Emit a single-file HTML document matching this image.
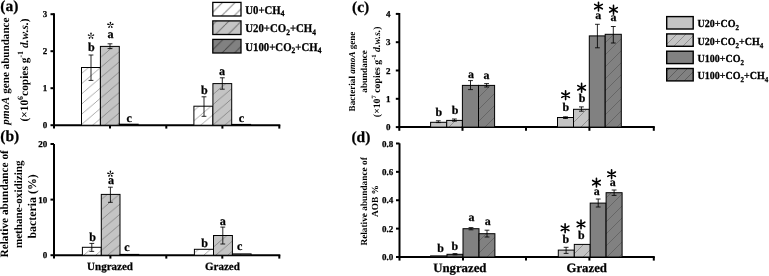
<!DOCTYPE html>
<html><head><meta charset="utf-8"><style>
html,body{margin:0;padding:0;background:#fff;width:769px;height:276px;overflow:hidden}
svg{display:block;filter:blur(0.3px)}
text{fill:#000}
svg{text-rendering:geometricPrecision}
text{stroke:#000;stroke-width:0.25px;paint-order:stroke}
.r text{stroke:none}
</style></head><body>
<svg width="769" height="276" viewBox="0 0 769 276" font-family="Liberation Serif" font-weight="bold">
<defs>
<pattern id="hwA" patternUnits="userSpaceOnUse" width="12" height="10.2"><rect width="12" height="10.2" fill="#fff"/><path d="M0,10.2 L12,0 M-12,10.2 L0,0 M12,10.2 L24,0" stroke="#a0a0a0" stroke-width="0.9"/></pattern>
<pattern id="hlA" patternUnits="userSpaceOnUse" width="12" height="10.2"><rect width="12" height="10.2" fill="#c4c4c4"/><path d="M0,10.2 L12,0 M-12,10.2 L0,0 M12,10.2 L24,0" stroke="#858585" stroke-width="0.9"/></pattern>
<pattern id="hdA" patternUnits="userSpaceOnUse" width="12" height="10.2"><rect width="12" height="10.2" fill="#818181"/><path d="M0,10.2 L12,0 M-12,10.2 L0,0 M12,10.2 L24,0" stroke="#555" stroke-width="0.9"/></pattern>
<pattern id="hwL" patternUnits="userSpaceOnUse" width="12.5" height="12.5"><rect width="12.5" height="12.5" fill="#fff"/><path d="M0,12.5 L12.5,0 M-12.5,12.5 L0,0 M12.5,12.5 L25.0,0" stroke="#808080" stroke-width="1.0"/></pattern>
<pattern id="hlL" patternUnits="userSpaceOnUse" width="12.5" height="12.5"><rect width="12.5" height="12.5" fill="#c4c4c4"/><path d="M0,12.5 L12.5,0 M-12.5,12.5 L0,0 M12.5,12.5 L25.0,0" stroke="#707070" stroke-width="1.0"/></pattern>
<pattern id="hdL" patternUnits="userSpaceOnUse" width="12.5" height="12.5"><rect width="12.5" height="12.5" fill="#818181"/><path d="M0,12.5 L12.5,0 M-12.5,12.5 L0,0 M12.5,12.5 L25.0,0" stroke="#484848" stroke-width="1.0"/></pattern>
<pattern id="hlC" patternUnits="userSpaceOnUse" width="12" height="12"><rect width="12" height="12" fill="#c4c4c4"/><path d="M0,12 L12,0 M-12,12 L0,0 M12,12 L24,0" stroke="#8a8a8a" stroke-width="0.9"/></pattern>
<pattern id="hdC" patternUnits="userSpaceOnUse" width="12" height="12"><rect width="12" height="12" fill="#818181"/><path d="M0,12 L12,0 M-12,12 L0,0 M12,12 L24,0" stroke="#606060" stroke-width="0.8"/></pattern>
<pattern id="hlM" patternUnits="userSpaceOnUse" width="9" height="9"><rect width="9" height="9" fill="#c4c4c4"/><path d="M0,9 L9,0 M-9,9 L0,0 M9,9 L18,0" stroke="#8a8a8a" stroke-width="0.9"/></pattern>
<pattern id="hdM" patternUnits="userSpaceOnUse" width="9" height="9"><rect width="9" height="9" fill="#818181"/><path d="M0,9 L9,0 M-9,9 L0,0 M9,9 L18,0" stroke="#5a5a5a" stroke-width="0.9"/></pattern>
</defs>
<rect width="769" height="276" fill="#fff"/>
<text x="0.3" y="11" font-size="15.5" text-anchor="start" >(a)</text>
<line x1="54" y1="13.2" x2="54" y2="128.6" stroke="#000" stroke-width="2"/>
<line x1="53" y1="125.2" x2="280.3" y2="125.2" stroke="#000" stroke-width="2"/>
<line x1="50.5" y1="125.2" x2="54" y2="125.2" stroke="#000" stroke-width="2"/>
<text x="47.2" y="128.3" font-size="9" text-anchor="end" >0</text>
<line x1="50.5" y1="88.2" x2="54" y2="88.2" stroke="#000" stroke-width="2"/>
<text x="47.2" y="91.3" font-size="9" text-anchor="end" >1</text>
<line x1="50.5" y1="51.2" x2="54" y2="51.2" stroke="#000" stroke-width="2"/>
<text x="47.2" y="54.300000000000004" font-size="9" text-anchor="end" >2</text>
<line x1="50.5" y1="14.200000000000003" x2="54" y2="14.200000000000003" stroke="#000" stroke-width="2"/>
<text x="47.2" y="17.300000000000004" font-size="9" text-anchor="end" >3</text>
<line x1="110" y1="125.2" x2="110" y2="128.6" stroke="#000" stroke-width="2"/>
<line x1="166.3" y1="125.2" x2="166.3" y2="128.6" stroke="#000" stroke-width="2"/>
<line x1="222.4" y1="125.2" x2="222.4" y2="128.6" stroke="#000" stroke-width="2"/>
<line x1="279.3" y1="125.2" x2="279.3" y2="128.6" stroke="#000" stroke-width="2"/>
<rect x="81.5" y="67.5" width="18.900000000000006" height="57.7" fill="url(#hwA)" stroke="#000" stroke-width="1"/>
<rect x="100.4" y="46.4" width="18.89999999999999" height="78.80000000000001" fill="url(#hlA)" stroke="#000" stroke-width="1"/>
<rect x="119.3" y="124.2" width="18.89999999999999" height="1.0" fill="url(#hdA)" stroke="#000" stroke-width="1"/>
<rect x="193.9" y="106.2" width="19.0" height="19.0" fill="url(#hwA)" stroke="#000" stroke-width="1"/>
<rect x="212.9" y="83.6" width="18.799999999999983" height="41.60000000000001" fill="url(#hlA)" stroke="#000" stroke-width="1"/>
<rect x="231.7" y="124.4" width="18.900000000000006" height="0.8" fill="url(#hdA)" stroke="#000" stroke-width="1"/>
<line x1="91" y1="55" x2="91" y2="80.4" stroke="#000" stroke-width="0.85"/>
<line x1="88.6" y1="55" x2="93.4" y2="55" stroke="#000" stroke-width="0.85"/>
<line x1="88.6" y1="80.4" x2="93.4" y2="80.4" stroke="#000" stroke-width="0.85"/>
<line x1="110" y1="43.8" x2="110" y2="48.6" stroke="#000" stroke-width="0.85"/>
<line x1="107.6" y1="43.8" x2="112.4" y2="43.8" stroke="#000" stroke-width="0.85"/>
<line x1="107.6" y1="48.6" x2="112.4" y2="48.6" stroke="#000" stroke-width="0.85"/>
<line x1="204" y1="96.8" x2="204" y2="116.3" stroke="#000" stroke-width="0.85"/>
<line x1="201.6" y1="96.8" x2="206.4" y2="96.8" stroke="#000" stroke-width="0.85"/>
<line x1="201.6" y1="116.3" x2="206.4" y2="116.3" stroke="#000" stroke-width="0.85"/>
<line x1="222.3" y1="77.8" x2="222.3" y2="89.2" stroke="#000" stroke-width="0.85"/>
<line x1="219.9" y1="77.8" x2="224.70000000000002" y2="77.8" stroke="#000" stroke-width="0.85"/>
<line x1="219.9" y1="89.2" x2="224.70000000000002" y2="89.2" stroke="#000" stroke-width="0.85"/>
<path d="M91.00,35.90 L91.50,34.20 L91.90,33.01 L91.00,32.50 L90.10,33.01 L90.50,34.20ZM91.00,35.90 L92.77,35.85 L94.03,35.86 L94.23,34.85 L93.47,34.15 L92.46,34.90ZM91.00,35.90 L89.54,34.90 L88.53,34.15 L87.77,34.85 L87.97,35.86 L89.23,35.85ZM91.00,35.90 L91.60,37.57 L91.97,38.77 L93.00,38.65 L93.43,37.71 L92.40,36.98ZM91.00,35.90 L89.60,36.98 L88.57,37.71 L89.00,38.65 L90.03,38.77 L90.40,37.57Z" fill="#000"/>
<path d="M110.40,25.10 L110.90,23.40 L111.30,22.21 L110.40,21.70 L109.50,22.21 L109.91,23.40ZM110.40,25.10 L112.17,25.05 L113.43,25.06 L113.63,24.05 L112.87,23.35 L111.86,24.10ZM110.40,25.10 L108.94,24.10 L107.93,23.35 L107.17,24.05 L107.37,25.06 L108.63,25.05ZM110.40,25.10 L111.00,26.77 L111.37,27.97 L112.40,27.85 L112.83,26.91 L111.80,26.18ZM110.40,25.10 L109.00,26.18 L107.97,26.91 L108.40,27.85 L109.43,27.97 L109.80,26.77Z" fill="#000"/>
<text x="88.09" y="51.09" font-size="12.1">b</text>
<text x="107.38" y="37.53" font-size="12.1">a</text>
<text x="126.60" y="121.88" font-size="12.1">c</text>
<text x="201.09" y="93.69" font-size="12.1">b</text>
<text x="219.08" y="75.33" font-size="12.1">a</text>
<text x="238.85" y="122.33" font-size="12.1">c</text>
<g class="r" transform="translate(9,71.2) rotate(-90)"><text x="0" y="0" font-size="11.1" text-anchor="middle"><tspan font-style="italic" font-size="11.1" letter-spacing="0.3">pmoA</tspan> gene abundance</text></g>
<g class="r" transform="translate(27.5,70) rotate(-90)"><text x="0" y="0" font-size="11.4" text-anchor="middle">(×10<tspan font-size="8" dy="-4.5">6</tspan><tspan dy="4.5">copies g</tspan><tspan font-size="8" dy="-4.5">-1</tspan><tspan dy="4.5"> </tspan><tspan font-style="italic">d.w.s.</tspan>)</text></g>
<rect x="212.8" y="2.4" width="28.2" height="13.6" fill="url(#hwL)" stroke="#000" stroke-width="1.3"/>
<text transform="translate(245.2,13.8) scale(1,1.1)" font-size="10.8" text-anchor="start">U0+CH<tspan font-size="7.5" dy="2.4">4</tspan></text>
<rect x="212.8" y="20.9" width="28.2" height="13.6" fill="url(#hlL)" stroke="#000" stroke-width="1.3"/>
<text transform="translate(245.2,32.3) scale(1,1.1)" font-size="10.8" text-anchor="start">U20+CO<tspan font-size="7.5" dy="2.4">2</tspan><tspan dy="-2.4">+CH</tspan><tspan font-size="7.5" dy="2.4">4</tspan></text>
<rect x="212.8" y="39.4" width="28.2" height="13.6" fill="url(#hdL)" stroke="#000" stroke-width="1.3"/>
<text transform="translate(245.2,50.8) scale(1,1.1)" font-size="10.8" text-anchor="start">U100+CO<tspan font-size="7.5" dy="2.4">2</tspan><tspan dy="-2.4">+CH</tspan><tspan font-size="7.5" dy="2.4">4</tspan></text>
<text x="0.3" y="141" font-size="15.5" text-anchor="start" >(b)</text>
<line x1="54" y1="144" x2="54" y2="258.6" stroke="#000" stroke-width="2"/>
<line x1="53" y1="255.2" x2="280.3" y2="255.2" stroke="#000" stroke-width="2"/>
<line x1="50.5" y1="255.2" x2="54" y2="255.2" stroke="#000" stroke-width="2"/>
<text x="47.2" y="258.3" font-size="9" text-anchor="end" >0</text>
<line x1="50.5" y1="199.6" x2="54" y2="199.6" stroke="#000" stroke-width="2"/>
<text x="47.2" y="202.7" font-size="9" text-anchor="end" >10</text>
<line x1="50.5" y1="144.0" x2="54" y2="144.0" stroke="#000" stroke-width="2"/>
<text x="47.2" y="147.1" font-size="9" text-anchor="end" >20</text>
<line x1="110.4" y1="255.2" x2="110.4" y2="258.6" stroke="#000" stroke-width="2"/>
<line x1="166.3" y1="255.2" x2="166.3" y2="258.6" stroke="#000" stroke-width="2"/>
<line x1="222.3" y1="255.2" x2="222.3" y2="258.6" stroke="#000" stroke-width="2"/>
<line x1="279.3" y1="255.2" x2="279.3" y2="258.6" stroke="#000" stroke-width="2"/>
<rect x="82.4" y="247.3" width="18.89999999999999" height="7.899999999999977" fill="url(#hwA)" stroke="#000" stroke-width="1"/>
<rect x="101.3" y="194.4" width="18.700000000000003" height="60.79999999999998" fill="url(#hlA)" stroke="#000" stroke-width="1"/>
<rect x="120" y="254.39999999999998" width="18.80000000000001" height="0.8000000000000114" fill="url(#hdA)" stroke="#000" stroke-width="1"/>
<rect x="194.4" y="249.3" width="19.099999999999994" height="5.899999999999977" fill="url(#hwA)" stroke="#000" stroke-width="1"/>
<rect x="213.5" y="235.5" width="18.900000000000006" height="19.69999999999999" fill="url(#hlA)" stroke="#000" stroke-width="1"/>
<rect x="232.4" y="253.89999999999998" width="18.69999999999999" height="1.3000000000000114" fill="url(#hdA)" stroke="#000" stroke-width="1"/>
<line x1="91.8" y1="243.4" x2="91.8" y2="251.4" stroke="#000" stroke-width="0.85"/>
<line x1="89.39999999999999" y1="243.4" x2="94.2" y2="243.4" stroke="#000" stroke-width="0.85"/>
<line x1="89.39999999999999" y1="251.4" x2="94.2" y2="251.4" stroke="#000" stroke-width="0.85"/>
<line x1="110.4" y1="187.2" x2="110.4" y2="202.3" stroke="#000" stroke-width="0.85"/>
<line x1="108.0" y1="187.2" x2="112.80000000000001" y2="187.2" stroke="#000" stroke-width="0.85"/>
<line x1="108.0" y1="202.3" x2="112.80000000000001" y2="202.3" stroke="#000" stroke-width="0.85"/>
<line x1="222.8" y1="227.1" x2="222.8" y2="244" stroke="#000" stroke-width="0.85"/>
<line x1="220.4" y1="227.1" x2="225.20000000000002" y2="227.1" stroke="#000" stroke-width="0.85"/>
<line x1="220.4" y1="244" x2="225.20000000000002" y2="244" stroke="#000" stroke-width="0.85"/>
<path d="M110.40,174.00 L110.90,172.30 L111.30,171.11 L110.40,170.60 L109.50,171.11 L109.91,172.30ZM110.40,174.00 L112.17,173.95 L113.43,173.96 L113.63,172.95 L112.87,172.25 L111.86,173.00ZM110.40,174.00 L108.94,173.00 L107.93,172.25 L107.17,172.95 L107.37,173.96 L108.63,173.95ZM110.40,174.00 L111.00,175.67 L111.37,176.87 L112.40,176.75 L112.83,175.81 L111.80,175.08ZM110.40,174.00 L109.00,175.08 L107.97,175.81 L108.40,176.75 L109.43,176.87 L109.80,175.67Z" fill="#000"/>
<text x="89.29" y="240.84" font-size="12.1">b</text>
<text x="107.88" y="184.48" font-size="12.1">a</text>
<text x="124.30" y="251.23" font-size="12.1">c</text>
<text x="201.29" y="247.29" font-size="12.1">b</text>
<text x="219.83" y="224.78" font-size="12.1">a</text>
<text x="236.90" y="250.33" font-size="12.1">c</text>
<text x="110" y="270.2" font-size="11" text-anchor="middle" >Ungrazed</text>
<text x="222.4" y="270.2" font-size="11" text-anchor="middle" >Grazed</text>
<g class="r" transform="translate(8.4,203.8) rotate(-90)"><text x="0" y="0" font-size="11.3" text-anchor="middle">Relative abundance of</text></g>
<g class="r" transform="translate(21.8,204.3) rotate(-90)"><text x="0" y="0" font-size="11.1" text-anchor="middle">methane-oxidizing</text></g>
<g class="r" transform="translate(36,206.4) rotate(-90)"><text x="0" y="0" font-size="11.9" text-anchor="middle">bacteria (%)</text></g>
<text x="352" y="12.2" font-size="15.5" text-anchor="start" >(c)</text>
<line x1="399.3" y1="13" x2="399.3" y2="130.8" stroke="#000" stroke-width="2"/>
<line x1="398.3" y1="127.1" x2="654.8" y2="127.1" stroke="#000" stroke-width="2"/>
<line x1="395.8" y1="127.1" x2="399.3" y2="127.1" stroke="#000" stroke-width="2"/>
<text x="390.5" y="130.2" font-size="9" text-anchor="end" >0</text>
<line x1="395.8" y1="98.8" x2="399.3" y2="98.8" stroke="#000" stroke-width="2"/>
<text x="390.5" y="101.89999999999999" font-size="9" text-anchor="end" >1</text>
<line x1="395.8" y1="70.5" x2="399.3" y2="70.5" stroke="#000" stroke-width="2"/>
<text x="390.5" y="73.6" font-size="9" text-anchor="end" >2</text>
<line x1="395.8" y1="42.19999999999999" x2="399.3" y2="42.19999999999999" stroke="#000" stroke-width="2"/>
<text x="390.5" y="45.29999999999999" font-size="9" text-anchor="end" >3</text>
<line x1="395.8" y1="13.899999999999991" x2="399.3" y2="13.899999999999991" stroke="#000" stroke-width="2"/>
<text x="390.5" y="16.999999999999993" font-size="9" text-anchor="end" >4</text>
<line x1="462.5" y1="127.1" x2="462.5" y2="130.8" stroke="#000" stroke-width="2"/>
<line x1="526" y1="127.1" x2="526" y2="130.8" stroke="#000" stroke-width="2"/>
<line x1="589.4" y1="127.1" x2="589.4" y2="130.8" stroke="#000" stroke-width="2"/>
<line x1="653.8" y1="127.1" x2="653.8" y2="130.8" stroke="#000" stroke-width="2"/>
<rect x="430.6" y="122.3" width="16.099999999999966" height="4.799999999999997" fill="#c4c4c4" stroke="#000" stroke-width="1"/>
<rect x="557.5" y="117.5" width="16.0" height="9.599999999999994" fill="#c4c4c4" stroke="#000" stroke-width="1"/>
<rect x="446.7" y="120.4" width="15.699999999999989" height="6.699999999999989" fill="url(#hlC)" stroke="#000" stroke-width="1"/>
<rect x="573.5" y="109.3" width="15.799999999999955" height="17.799999999999997" fill="url(#hlC)" stroke="#000" stroke-width="1"/>
<rect x="462.4" y="85.4" width="16.100000000000023" height="41.69999999999999" fill="#818181" stroke="#000" stroke-width="1"/>
<rect x="589.3" y="35.9" width="15.900000000000091" height="91.19999999999999" fill="#818181" stroke="#000" stroke-width="1"/>
<rect x="478.5" y="85.4" width="16.100000000000023" height="41.69999999999999" fill="url(#hdC)" stroke="#000" stroke-width="1"/>
<rect x="605.2" y="34.3" width="16.09999999999991" height="92.8" fill="url(#hdC)" stroke="#000" stroke-width="1"/>
<line x1="438.3" y1="120.8" x2="438.3" y2="122.6" stroke="#000" stroke-width="0.85"/>
<line x1="435.90000000000003" y1="120.8" x2="440.7" y2="120.8" stroke="#000" stroke-width="0.85"/>
<line x1="435.90000000000003" y1="122.6" x2="440.7" y2="122.6" stroke="#000" stroke-width="0.85"/>
<line x1="454.4" y1="119" x2="454.4" y2="121.2" stroke="#000" stroke-width="0.85"/>
<line x1="452.0" y1="119" x2="456.79999999999995" y2="119" stroke="#000" stroke-width="0.85"/>
<line x1="452.0" y1="121.2" x2="456.79999999999995" y2="121.2" stroke="#000" stroke-width="0.85"/>
<line x1="470.5" y1="80.6" x2="470.5" y2="89.6" stroke="#000" stroke-width="0.85"/>
<line x1="468.1" y1="80.6" x2="472.9" y2="80.6" stroke="#000" stroke-width="0.85"/>
<line x1="468.1" y1="89.6" x2="472.9" y2="89.6" stroke="#000" stroke-width="0.85"/>
<line x1="486.6" y1="83.6" x2="486.6" y2="87" stroke="#000" stroke-width="0.85"/>
<line x1="484.20000000000005" y1="83.6" x2="489.0" y2="83.6" stroke="#000" stroke-width="0.85"/>
<line x1="484.20000000000005" y1="87" x2="489.0" y2="87" stroke="#000" stroke-width="0.85"/>
<line x1="565.5" y1="116.8" x2="565.5" y2="118.5" stroke="#000" stroke-width="0.85"/>
<line x1="563.1" y1="116.8" x2="567.9" y2="116.8" stroke="#000" stroke-width="0.85"/>
<line x1="563.1" y1="118.5" x2="567.9" y2="118.5" stroke="#000" stroke-width="0.85"/>
<line x1="581.4" y1="106.9" x2="581.4" y2="111.2" stroke="#000" stroke-width="0.85"/>
<line x1="579.0" y1="106.9" x2="583.8" y2="106.9" stroke="#000" stroke-width="0.85"/>
<line x1="579.0" y1="111.2" x2="583.8" y2="111.2" stroke="#000" stroke-width="0.85"/>
<line x1="597.4" y1="24.3" x2="597.4" y2="47.8" stroke="#000" stroke-width="0.85"/>
<line x1="595.0" y1="24.3" x2="599.8" y2="24.3" stroke="#000" stroke-width="0.85"/>
<line x1="595.0" y1="47.8" x2="599.8" y2="47.8" stroke="#000" stroke-width="0.85"/>
<line x1="613.3" y1="26.5" x2="613.3" y2="43" stroke="#000" stroke-width="0.85"/>
<line x1="610.9" y1="26.5" x2="615.6999999999999" y2="26.5" stroke="#000" stroke-width="0.85"/>
<line x1="610.9" y1="43" x2="615.6999999999999" y2="43" stroke="#000" stroke-width="0.85"/>
<text x="435.55" y="115.63" font-size="11.9">b</text>
<text x="451.70" y="114.28" font-size="11.9">b</text>
<text x="468.04" y="78.09" font-size="11.9">a</text>
<text x="483.59" y="78.69" font-size="11.9">a</text>
<path d="M565.60,99.60L565.60,90.80M561.79,97.40L569.41,93.00M569.41,97.40L561.79,93.00" stroke="#000" stroke-width="1.6" stroke-linecap="round"/>
<text x="562.45" y="111.43" font-size="11.9">b</text>
<path d="M581.60,92.20L581.60,83.40M577.79,90.00L585.41,85.60M585.41,90.00L577.79,85.60" stroke="#000" stroke-width="1.6" stroke-linecap="round"/>
<text x="578.80" y="102.48" font-size="11.9">b</text>
<path d="M598.50,11.00L598.50,2.20M594.69,8.80L602.31,4.40M602.31,8.80L594.69,4.40" stroke="#000" stroke-width="1.6" stroke-linecap="round"/>
<text x="595.24" y="19.49" font-size="11.9">a</text>
<path d="M613.50,14.20L613.50,5.40M609.69,12.00L617.31,7.60M617.31,12.00L609.69,7.60" stroke="#000" stroke-width="1.6" stroke-linecap="round"/>
<text x="610.44" y="21.44" font-size="11.9">a</text>
<g class="r" transform="translate(355.3,71.5) rotate(-90)"><text x="0" y="0" font-size="9.1" text-anchor="middle">Bacterial <tspan font-style="italic">amoA</tspan> gene</text></g>
<g class="r" transform="translate(366.6,71.4) rotate(-90)"><text x="0" y="0" font-size="9.1" text-anchor="middle">abundance</text></g>
<g class="r" transform="translate(379.8,71.8) rotate(-90)"><text x="0" y="0" font-size="9.8" text-anchor="middle">(×10<tspan font-size="6.5" dy="-3.6">7</tspan><tspan dy="3.6"> copies g</tspan><tspan font-size="6.5" dy="-3.6">-1</tspan><tspan dy="3.6"> </tspan><tspan font-style="italic">d.w.s.</tspan>)</text></g>
<rect x="666.7" y="16.6" width="26.5" height="12.4" fill="#c4c4c4" stroke="#000" stroke-width="1.4"/>
<text transform="translate(697.6,27.400000000000002) scale(1,1.08)" font-size="10.0" text-anchor="start">U20+CO<tspan font-size="7" dy="2.6">2</tspan></text>
<rect x="666.7" y="33.900000000000006" width="26.5" height="12.4" fill="url(#hlM)" stroke="#000" stroke-width="1.4"/>
<text transform="translate(697.6,44.7) scale(1,1.08)" font-size="10.0" text-anchor="start">U20+CO<tspan font-size="7" dy="2.6">2</tspan><tspan dy="-2.6">+CH</tspan><tspan font-size="7" dy="2.6">4</tspan></text>
<rect x="666.7" y="51.2" width="26.5" height="12.4" fill="#818181" stroke="#000" stroke-width="1.4"/>
<text transform="translate(697.6,62.0) scale(1,1.08)" font-size="10.0" text-anchor="start">U100+CO<tspan font-size="7" dy="2.6">2</tspan></text>
<rect x="666.7" y="68.5" width="26.5" height="12.4" fill="url(#hdM)" stroke="#000" stroke-width="1.4"/>
<text transform="translate(697.6,79.3) scale(1,1.08)" font-size="10.0" text-anchor="start">U100+CO<tspan font-size="7" dy="2.6">2</tspan><tspan dy="-2.6">+CH</tspan><tspan font-size="7" dy="2.6">4</tspan></text>
<text x="351.4" y="141.9" font-size="15.5" text-anchor="start" >(d)</text>
<line x1="399.5" y1="143.3" x2="399.5" y2="260.6" stroke="#000" stroke-width="2"/>
<line x1="398.5" y1="257" x2="654.8" y2="257" stroke="#000" stroke-width="2"/>
<line x1="396.0" y1="257.0" x2="399.5" y2="257.0" stroke="#000" stroke-width="2"/>
<text x="393.2" y="260.1" font-size="9" text-anchor="end" >0.0</text>
<line x1="396.0" y1="228.62" x2="399.5" y2="228.62" stroke="#000" stroke-width="2"/>
<text x="393.2" y="231.72" font-size="9" text-anchor="end" >0.2</text>
<line x1="396.0" y1="200.24" x2="399.5" y2="200.24" stroke="#000" stroke-width="2"/>
<text x="393.2" y="203.34" font-size="9" text-anchor="end" >0.4</text>
<line x1="396.0" y1="171.85999999999999" x2="399.5" y2="171.85999999999999" stroke="#000" stroke-width="2"/>
<text x="393.2" y="174.95999999999998" font-size="9" text-anchor="end" >0.6</text>
<line x1="396.0" y1="143.48" x2="399.5" y2="143.48" stroke="#000" stroke-width="2"/>
<text x="393.2" y="146.57999999999998" font-size="9" text-anchor="end" >0.8</text>
<line x1="463" y1="257" x2="463" y2="260.6" stroke="#000" stroke-width="2"/>
<line x1="526" y1="257" x2="526" y2="260.6" stroke="#000" stroke-width="2"/>
<line x1="589.4" y1="257" x2="589.4" y2="260.6" stroke="#000" stroke-width="2"/>
<line x1="653.8" y1="257" x2="653.8" y2="260.6" stroke="#000" stroke-width="2"/>
<rect x="430.6" y="255.9" width="16.399999999999977" height="1.0999999999999943" fill="#c4c4c4" stroke="#000" stroke-width="1"/>
<rect x="558.3" y="250.1" width="16.0" height="6.900000000000006" fill="#c4c4c4" stroke="#000" stroke-width="1"/>
<rect x="447" y="254.3" width="16" height="2.6999999999999886" fill="#6a6a6a" stroke="#000" stroke-width="1"/>
<rect x="574.3" y="244.4" width="15.900000000000091" height="12.599999999999994" fill="url(#hlC)" stroke="#000" stroke-width="1"/>
<rect x="463" y="228.7" width="16" height="28.30000000000001" fill="#818181" stroke="#000" stroke-width="1"/>
<rect x="590.2" y="203.1" width="15.899999999999977" height="53.900000000000006" fill="#818181" stroke="#000" stroke-width="1"/>
<rect x="479" y="233.7" width="15.899999999999977" height="23.30000000000001" fill="url(#hdC)" stroke="#000" stroke-width="1"/>
<rect x="606.1" y="192.7" width="16.0" height="64.30000000000001" fill="url(#hdC)" stroke="#000" stroke-width="1"/>
<line x1="455" y1="253.6" x2="455" y2="254.8" stroke="#000" stroke-width="0.85"/>
<line x1="452.6" y1="253.6" x2="457.4" y2="253.6" stroke="#000" stroke-width="0.85"/>
<line x1="452.6" y1="254.8" x2="457.4" y2="254.8" stroke="#000" stroke-width="0.85"/>
<line x1="471" y1="227.6" x2="471" y2="229.8" stroke="#000" stroke-width="0.85"/>
<line x1="468.6" y1="227.6" x2="473.4" y2="227.6" stroke="#000" stroke-width="0.85"/>
<line x1="468.6" y1="229.8" x2="473.4" y2="229.8" stroke="#000" stroke-width="0.85"/>
<line x1="487" y1="230.2" x2="487" y2="237" stroke="#000" stroke-width="0.85"/>
<line x1="484.6" y1="230.2" x2="489.4" y2="230.2" stroke="#000" stroke-width="0.85"/>
<line x1="484.6" y1="237" x2="489.4" y2="237" stroke="#000" stroke-width="0.85"/>
<line x1="566.1" y1="247.3" x2="566.1" y2="253.4" stroke="#000" stroke-width="0.85"/>
<line x1="563.7" y1="247.3" x2="568.5" y2="247.3" stroke="#000" stroke-width="0.85"/>
<line x1="563.7" y1="253.4" x2="568.5" y2="253.4" stroke="#000" stroke-width="0.85"/>
<line x1="598.2" y1="199" x2="598.2" y2="207" stroke="#000" stroke-width="0.85"/>
<line x1="595.8000000000001" y1="199" x2="600.6" y2="199" stroke="#000" stroke-width="0.85"/>
<line x1="595.8000000000001" y1="207" x2="600.6" y2="207" stroke="#000" stroke-width="0.85"/>
<line x1="614.1" y1="190" x2="614.1" y2="195.4" stroke="#000" stroke-width="0.85"/>
<line x1="611.7" y1="190" x2="616.5" y2="190" stroke="#000" stroke-width="0.85"/>
<line x1="611.7" y1="195.4" x2="616.5" y2="195.4" stroke="#000" stroke-width="0.85"/>
<text x="437.30" y="252.13" font-size="11.9">b</text>
<text x="451.60" y="249.63" font-size="11.9">b</text>
<text x="468.44" y="220.64" font-size="11.9">a</text>
<text x="484.69" y="225.34" font-size="11.9">a</text>
<path d="M565.10,232.70L565.10,223.90M561.29,230.50L568.91,226.10M568.91,230.50L561.29,226.10" stroke="#000" stroke-width="1.6" stroke-linecap="round"/>
<text x="562.45" y="242.93" font-size="11.9">b</text>
<path d="M581.00,228.80L581.00,220.00M577.19,226.60L584.81,222.20M584.81,226.60L577.19,222.20" stroke="#000" stroke-width="1.6" stroke-linecap="round"/>
<text x="578.00" y="239.48" font-size="11.9">b</text>
<path d="M596.45,187.05L596.45,178.25M592.64,184.85L600.26,180.45M600.26,184.85L592.64,180.45" stroke="#000" stroke-width="1.6" stroke-linecap="round"/>
<text x="593.64" y="194.79" font-size="11.9">a</text>
<path d="M611.60,178.60L611.60,169.80M607.79,176.40L615.41,172.00M615.41,176.40L607.79,172.00" stroke="#000" stroke-width="1.6" stroke-linecap="round"/>
<text x="609.84" y="186.29" font-size="11.9">a</text>
<text x="459.8" y="272.1" font-size="12.8" text-anchor="middle" >Ungrazed</text>
<text x="586.7" y="272.1" font-size="12.8" text-anchor="middle" >Grazed</text>
<g class="r" transform="translate(366.6,201.4) rotate(-90)"><text x="0" y="0" font-size="9.3" text-anchor="middle">Relative abundance of</text></g>
<g class="r" transform="translate(378,201) rotate(-90)"><text x="0" y="0" font-size="9.3" text-anchor="middle">AOB %</text></g>
</svg>
</body></html>
